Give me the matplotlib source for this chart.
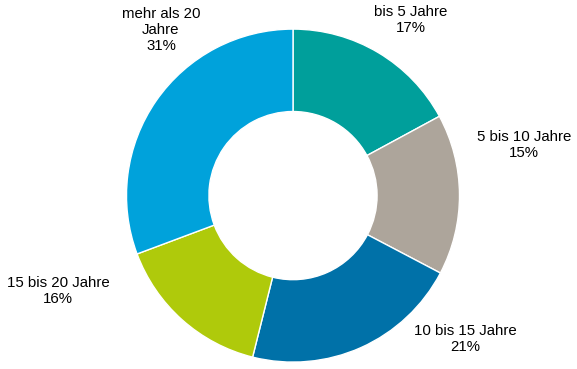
import matplotlib.pyplot as plt

categories = ['bis 5 Jahre', '5 bis 10 Jahre', '10 bis 15 Jahre', '15 bis 20 Jahre', 'mehr als 20\nJahre']
# wedge sizes, printed labels as shown
values = [17.1, 15.6, 21.2, 15.4, 30.7]
printed = [17, 15, 21, 16, 31]
colors = ['#009F9B', '#ADA59B', '#0071A8', '#AFCA0B', '#00A2DB']
# label anchor points (in units of the outer radius)
label_pos = [(0.709, 1.055), (1.387, 0.304), (1.033, -0.861), (-1.411, -0.573), (-0.793, 0.995)]

plt.rcParams['font.family'] = ['Liberation Sans', 'DejaVu Sans']

fig = plt.figure(figsize=(5.77, 3.69), dpi=100)
cx, cy, r = 293, 195.6, 166.5
ax = fig.add_axes([(cx - r) / 577, (369 - cy - r) / 369, 2 * r / 577, 2 * r / 369])

ax.pie(values, colors=colors, startangle=90, counterclock=False, radius=1,
       wedgeprops=dict(width=0.495, edgecolor='white', linewidth=1.0))

for cat, val, (x, y) in zip(categories, printed, label_pos):
    ax.text(x, y, f'{cat}\n{val}%', ha='center', va='center', fontsize=10.8,
            color='black', linespacing=1.2)

ax.set_xlim(-1, 1)
ax.set_ylim(-1, 1)
ax.set_aspect('equal')
ax.axis('off')

fig.savefig('out.png', dpi=100)
